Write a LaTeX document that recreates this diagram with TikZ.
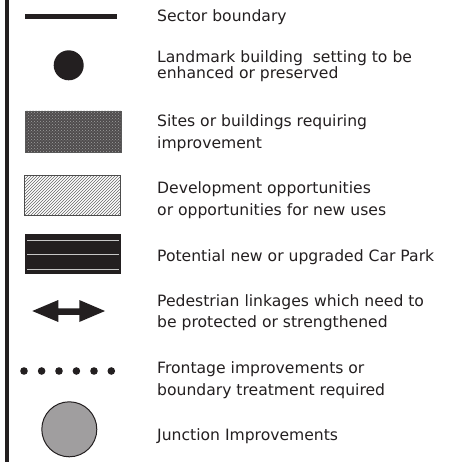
\documentclass[tikz,border=0pt]{standalone}
\usepackage{fontspec}
\setmainfont{DejaVu Sans}
\usetikzlibrary{patterns}
\definecolor{ink}{HTML}{231F20}
\definecolor{junc}{HTML}{A09E9F}
\begin{document}
\begin{tikzpicture}[x=1pt,y=-1pt,
  lbl/.style={anchor=base west,inner sep=0pt,text=ink,font=\fontsize{15.6}{18}\selectfont},
  symb/.style={draw=ink,line width=0.8pt}]
\useasboundingbox[fill=white] (0,0) rectangle (461,462);
% left border bar
\fill[ink] (5,0) rectangle (9,462);
% sector boundary
\draw[ink,line width=5pt] (25,16.5) -- (117,16.5);
\node[lbl] (t1) at (157,22) {Sector boundary};
% landmark
\fill[ink] (68.7,65.3) circle (15);
\node[lbl] (t2a) at (157,63) {Landmark building\ \ setting to be};
\node[lbl] (t2b) at (157,78.5) {enhanced or preserved};
% sites requiring improvement
\path[preaction={fill=ink!80},pattern=crosshatch dots,pattern color=gray!75] (25,111) rectangle (121,152);
\draw[symb,draw=gray!70!black] (25,111) rectangle (121,152);
\node[lbl] (t3a) at (157,126.5) {Sites or buildings requiring};
\node[lbl] (t3b) at (157,148.5) {improvement};
% development opportunities
\path[preaction={fill=white},pattern=north east lines,pattern color=gray!80!black] (24.5,175.5) rectangle (120,215);
\draw[symb,draw=gray!60!black] (24.5,175.5) rectangle (120,215);
\node[lbl] (t4a) at (157,193.5) {Development opportunities};
\node[lbl] (t4b) at (157,215.5) {or opportunities for new uses};
% car park
\fill[ink] (25,234) rectangle (121,274);
\foreach \yy in {240,254.7,269.3}
  \draw[gray!45,line width=0.9pt] (27,\yy) -- (119,\yy);
\node[lbl] (t5) at (157,261) {Potential new or upgraded Car Park};
% pedestrian linkage arrow
\fill[ink] (32.3,311) -- (58.3,300) -- (58.3,308.3) -- (79.3,308.3) -- (79.3,300)
  -- (105,311) -- (79.3,322) -- (79.3,314.8) -- (58.3,314.8) -- (58.3,322) -- cycle;
\node[lbl] (t6a) at (157,306) {Pedestrian linkages which need to};
\node[lbl] (t6b) at (157,327.5) {be protected or strengthened};
% frontage dots
\foreach \xx in {24,41.6,59,76.4,94,111.3}
  \fill[ink] (\xx,371) circle (3.8);
\node[lbl] (t7a) at (157,373) {Frontage improvements or};
\node[lbl] (t7b) at (157,395.5) {boundary treatment required};
% junction
\draw[fill=junc,draw=ink,line width=1pt] (69.3,429.3) circle (27.5);
\node[lbl] (t8) at (157,440) {Junction Improvements};
\end{tikzpicture}
\end{document}
